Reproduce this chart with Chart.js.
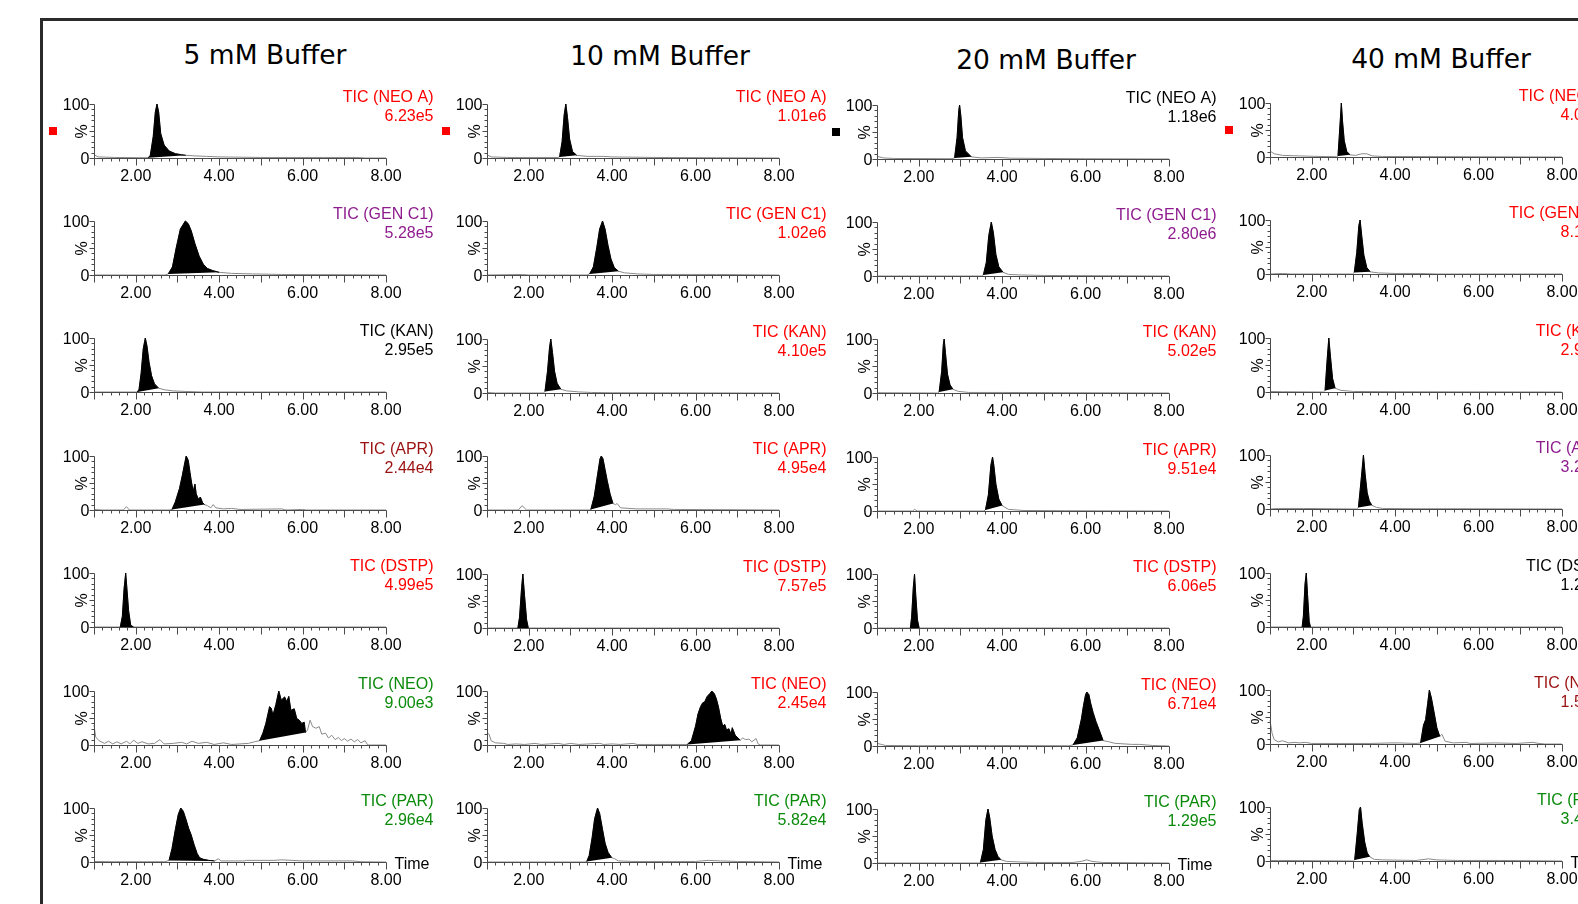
<!DOCTYPE html>
<html>
<head>
<meta charset="utf-8">
<title>TIC chromatograms by buffer strength</title>
<script src="https://cdn.jsdelivr.net/npm/chart.js@4.4.1/dist/chart.umd.min.js"></script>
<style>
  html, body { margin: 0; padding: 0; background: #fff; width: 1578px; height: 904px; overflow: hidden; }
  #frame { position: absolute; left: 40px; top: 18px; width: 1700px; height: 1000px;
           border-left: 3px solid #2b2b2b; border-top: 3px solid #2b2b2b; }
  .title { position: absolute; font-family: "DejaVu Sans", Verdana, sans-serif; font-size: 26.5px;
           color: #000; white-space: nowrap; transform: translate(-50%, -50%); }
  canvas { position: absolute; }
</style>
</head>
<body>
<div id="frame"></div>
<div id="wrap"></div>
<script>
// column headers and row compounds
const buffers = ['5 mM Buffer', '10 mM Buffer', '20 mM Buffer', '40 mM Buffer'];
const compounds = ['NEO A', 'GEN C1', 'KAN', 'APR', 'DSTP', 'NEO', 'PAR'];

// base peak intensity printed under each TIC label
const counts5mM = ['6.23e5', '5.28e5', '2.95e5', '2.44e4', '4.99e5', '9.00e3', '2.96e4'];
const counts10mM = ['1.01e6', '1.02e6', '4.10e5', '4.95e4', '7.57e5', '2.45e4', '5.82e4'];
const counts20mM = ['1.18e6', '2.80e6', '5.02e5', '9.51e4', '6.06e5', '6.71e4', '1.29e5'];
const counts40mM = ['4.05e5', '8.16e5', '2.96e5', '3.25e4', '1.25e5', '1.55e4', '3.45e4'];

// axis tick labels
const timeTicks = [2, 4, 6, 8];
const pctTicks = [0, 100];

// traces: [time (min), relative intensity (%)]
// 5 mM
const neoA5 = [[1.0,6],[1.1,2],[1.5,1],[2.3,0.5],[2.35,5],[2.42,40],[2.47,85],[2.51,100],[2.55,85],[2.6,45],[2.68,24],[2.8,13],[2.95,8],[3.1,6],[3.2,5],[3.4,4],[3.7,3],[4.0,2],[5.0,1],[6.5,1],[7.3,1],[7.5,0],[8.0,0]];
const gen5 = [[1.0,0],[2.7,0],[2.78,2],[2.88,15],[2.97,50],[3.07,85],[3.19,100],[3.26,95],[3.33,82],[3.42,58],[3.52,35],[3.62,20],[3.72,12],[3.85,8],[4.0,5],[4.3,3],[4.8,2],[5.5,1],[7.2,0.5],[8.0,0]];
const kan5 = [[1.0,0],[2.04,0],[2.08,5],[2.13,35],[2.18,80],[2.23,100],[2.27,85],[2.32,55],[2.38,30],[2.45,15],[2.55,7],[2.7,4],[2.9,2],[3.2,1],[3.6,0],[8.0,0]];
const apr5 = [[1.0,1],[1.2,0],[1.7,0],[1.78,6],[1.85,0],[2.8,0],[2.87,1],[2.95,15],[3.05,40],[3.12,65],[3.17,85],[3.21,100],[3.26,92],[3.3,70],[3.34,50],[3.38,35],[3.42,48],[3.45,30],[3.5,20],[3.55,24],[3.6,14],[3.65,10],[3.72,8],[3.8,4],[3.86,10],[3.92,4],[4.1,2],[4.3,3],[4.5,1],[5.5,2],[5.6,0],[6.0,1],[6.1,0],[8.0,0]];
const dstp5 = [[1.0,0],[1.63,0],[1.68,20],[1.72,70],[1.76,100],[1.79,70],[1.83,30],[1.88,3],[1.95,0],[8.0,0]];
const neo5 = [[1.0,37],[1.04,15],[1.12,8],[1.25,3],[1.35,7],[1.45,2],[1.55,6],[1.65,2],[1.78,7],[1.86,2],[1.95,9],[2.05,3],[2.15,6],[2.3,2],[2.45,3],[2.58,10],[2.68,2],[2.9,3],[3.1,5],[3.22,2],[3.35,7],[3.5,3],[3.7,5],[3.88,1],[4.1,4],[4.3,1],[4.5,2],[4.7,3],[4.85,6],[4.97,8],[5.05,22],[5.12,40],[5.21,71],[5.25,68],[5.29,55],[5.36,75],[5.43,100],[5.49,83],[5.57,89],[5.62,80],[5.67,90],[5.72,64],[5.8,67],[5.86,49],[5.92,46],[5.98,40],[6.04,42],[6.07,23],[6.12,28],[6.18,46],[6.24,34],[6.32,31],[6.4,34],[6.46,20],[6.55,22],[6.62,13],[6.7,18],[6.78,10],[6.86,14],[6.93,8],[7.0,12],[7.08,7],[7.16,11],[7.24,6],[7.32,10],[7.4,4],[7.5,8],[7.56,0],[8.0,0]];
const par5 = [[1.0,1],[1.5,0.5],[2.7,0.5],[2.8,3],[2.87,25],[2.95,60],[3.02,88],[3.08,100],[3.14,94],[3.2,80],[3.27,62],[3.33,50],[3.4,32],[3.47,16],[3.53,8],[3.62,5],[3.75,3],[3.89,2],[3.98,6],[4.05,2],[4.6,2],[4.65,3],[5.3,3],[5.5,4],[6.0,2],[7.2,2],[7.4,0.5],[8.0,0]];
// 10 mM
const neoA10 = [[1.0,6],[1.1,2],[1.5,1],[2.7,1],[2.74,2],[2.8,30],[2.85,80],[2.89,100],[2.93,75],[2.98,35],[3.05,12],[3.15,5],[3.4,3],[3.8,3],[4.0,2],[5.0,1],[6.5,0.5],[8.0,0]];
const gen10 = [[1.0,0],[1.85,1],[2.0,0],[3.4,0],[3.46,2],[3.55,15],[3.63,50],[3.7,85],[3.77,100],[3.83,85],[3.9,55],[3.97,30],[4.05,14],[4.15,7],[4.3,4],[4.6,2],[5.0,1],[5.9,1],[6.5,1],[8.0,0]];
const kan10 = [[1.0,1],[1.2,0],[2.35,0],[2.39,3],[2.45,40],[2.5,85],[2.53,100],[2.57,75],[2.62,40],[2.68,18],[2.77,7],[2.9,4],[3.2,2],[3.5,1],[4.0,0.5],[8.0,0]];
const apr10 = [[1.0,0],[1.75,0],[1.84,8],[1.95,0],[3.45,0],[3.49,1],[3.57,25],[3.65,65],[3.71,95],[3.74,100],[3.78,95],[3.83,75],[3.88,55],[3.95,30],[4.02,12],[4.08,10],[4.12,12],[4.2,4],[4.6,2],[5.3,2],[5.5,1],[7.0,0.5],[8.0,0]];
const dstp10 = [[1.0,0],[1.74,0],[1.78,20],[1.83,75],[1.86,100],[1.9,60],[1.95,15],[1.99,0],[8.0,0]];
const neo10 = [[1.0,23],[1.05,20],[1.1,8],[1.2,4],[1.4,3],[1.5,1],[1.7,2],[1.9,1],[2.15,3],[2.3,1],[2.5,2],[2.7,3],[2.85,1],[3.0,3],[3.2,1],[3.7,3],[3.8,1],[4.0,2],[4.2,1],[4.5,3],[4.6,1],[5.0,1],[5.8,1],[5.9,8],[6.0,35],[6.06,58],[6.12,71],[6.17,78],[6.22,80],[6.28,90],[6.34,95],[6.39,100],[6.45,95],[6.5,85],[6.55,70],[6.6,50],[6.65,35],[6.7,38],[6.74,28],[6.8,30],[6.85,20],[6.88,32],[6.95,18],[7.07,9],[7.13,13],[7.2,10],[7.28,11],[7.35,6],[7.45,12],[7.5,2],[7.55,0],[8.0,0]];
const par10 = [[1.0,0],[3.35,0],[3.39,1],[3.45,12],[3.52,45],[3.58,80],[3.65,100],[3.7,90],[3.77,60],[3.83,35],[3.9,18],[3.99,8],[4.06,6],[4.15,2],[4.5,1],[6.0,1],[6.3,3],[6.6,2],[7.0,1],[8.0,0]];
// 20 mM
const neoA20 = [[1.0,5],[1.15,2],[1.4,1],[2.8,0.5],[2.86,2],[2.92,40],[2.96,90],[2.98,100],[3.01,80],[3.05,40],[3.12,15],[3.26,4],[3.5,2],[3.9,3],[4.2,1.5],[5.0,1],[6.0,0.5],[8.0,0]];
const gen20 = [[1.0,0],[3.5,0],[3.55,2],[3.62,25],[3.68,75],[3.74,100],[3.79,80],[3.85,40],[3.92,17],[4.02,7],[4.15,3],[4.4,2],[5.0,1],[8.0,0]];
const kan20 = [[1.0,0.5],[2.45,0],[2.49,2],[2.55,40],[2.59,90],[2.61,100],[2.64,75],[2.69,35],[2.75,15],[2.82,7],[2.95,3],[3.2,1],[4.0,1],[8.0,0]];
const apr20 = [[1.0,0],[1.85,0],[1.9,3],[1.97,0],[3.56,0],[3.6,2],[3.67,30],[3.73,85],[3.77,100],[3.8,85],[3.85,50],[3.92,22],[4.0,10],[4.15,3],[4.5,1],[5.5,0.5],[8.0,0]];
const dstp20 = [[1.0,0],[1.8,0],[1.83,20],[1.87,75],[1.9,100],[1.93,60],[1.97,15],[2.01,0],[8.0,0]];
const neo20 = [[1.0,5],[1.1,3],[1.2,1],[2.0,0.5],[3.7,1],[5.6,0.5],[5.7,2],[5.8,15],[5.9,50],[5.95,75],[6.0,95],[6.03,100],[6.08,95],[6.12,80],[6.18,62],[6.25,45],[6.35,25],[6.42,10],[6.55,8],[6.7,5],[6.9,4],[7.1,3],[7.3,3],[7.6,1],[8.0,0]];
const par20 = [[1.0,0],[3.45,0],[3.48,1],[3.55,25],[3.61,80],[3.66,100],[3.7,85],[3.76,50],[3.83,25],[3.9,12],[3.97,6],[4.1,3],[4.4,2],[4.8,1],[5.7,1],[5.9,3],[6.03,6],[6.15,3],[6.4,1],[8.0,0]];
// 40 mM
const neoA40 = [[1.0,11],[1.1,6],[1.3,3],[1.7,2],[2.2,1],[2.6,0.5],[2.63,2],[2.67,50],[2.71,100],[2.74,65],[2.78,30],[2.84,10],[2.92,4],[3.05,3],[3.2,6],[3.32,6],[3.45,2],[3.7,1],[8.0,0]];
const gen40 = [[1.0,0],[1.3,1],[1.5,0],[2.98,0],[3.02,3],[3.08,40],[3.13,90],[3.16,100],[3.2,70],[3.25,35],[3.32,12],[3.4,4],[3.6,2],[4.0,1],[4.6,1],[5.0,0],[8.0,0]];
const kan40 = [[1.0,1],[1.3,0.5],[2.28,0],[2.32,3],[2.37,60],[2.41,100],[2.45,65],[2.5,25],[2.56,7],[2.7,3],[3.0,1],[4.0,0.5],[8.0,0]];
const apr40 = [[1.0,0],[1.2,1],[1.8,1],[3.08,0],[3.12,3],[3.18,50],[3.24,100],[3.28,65],[3.33,30],[3.38,15],[3.44,7],[3.55,3],[3.7,1],[4.5,0.5],[5.5,0.5],[8.0,0]];
const dstp40 = [[1.0,0],[1.77,0],[1.8,20],[1.84,80],[1.87,100],[1.9,60],[1.94,10],[1.97,0],[8.0,0]];
const neo40 = [[1.0,44],[1.05,20],[1.1,8],[1.2,4],[1.3,6],[1.45,2],[1.6,3],[1.7,2],[1.85,3],[2.0,1],[2.7,1],[3.4,1],[3.9,2],[4.1,2],[4.5,1],[4.61,2],[4.68,35],[4.73,45],[4.78,75],[4.82,100],[4.87,85],[4.93,60],[5.0,30],[5.07,14],[5.12,18],[5.2,5],[5.4,2],[5.7,3],[5.8,1],[6.4,2],[6.9,1],[7.3,3],[7.45,1],[7.6,0],[8.0,0]];
const par40 = [[1.0,1],[1.2,1],[3.0,0],[3.03,2],[3.09,50],[3.14,95],[3.17,100],[3.21,70],[3.27,35],[3.33,15],[3.39,8],[3.5,3],[3.7,2],[4.5,1],[4.8,4],[5.0,2],[5.5,1],[6.5,1],[8.0,0]];

// integrated peak windows [start, end] (min), one per compound row
const peaks5mM = [[2.3,3.2],[2.78,4.0],[2.04,2.55],[2.87,3.65],[1.63,1.95],[4.97,6.07],[2.8,3.89]];
const peaks10mM = [[2.74,3.15],[3.46,4.15],[2.39,2.77],[3.49,4.02],[1.74,1.99],[5.8,7.07],[3.39,3.99]];
const peaks20mM = [[2.86,3.26],[3.55,4.02],[2.49,2.82],[3.6,4.0],[1.8,2.01],[5.7,6.42],[3.48,3.97]];
const peaks40mM = [[2.63,2.92],[3.02,3.4],[2.32,2.56],[3.12,3.44],[1.77,1.97],[4.61,5.07],[3.03,3.39]];

const traces = [
  [neoA5, gen5, kan5, apr5, dstp5, neo5, par5],
  [neoA10, gen10, kan10, apr10, dstp10, neo10, par10],
  [neoA20, gen20, kan20, apr20, dstp20, neo20, par20],
  [neoA40, gen40, kan40, apr40, dstp40, neo40, par40],
];
const counts = [counts5mM, counts10mM, counts20mM, counts40mM];
const peaks = [peaks5mM, peaks10mM, peaks20mM, peaks40mM];

// styling
const RED = '#ff0000', PURPLE = '#8e1c8e', BLACK = '#000000', DKRED = '#9b1010', GREEN = '#0a8a0a';
const labelColors = [
  [RED, PURPLE, BLACK, DKRED, RED, GREEN, GREEN],
  [RED, RED, RED, RED, RED, RED, GREEN],
  [BLACK, PURPLE, RED, RED, RED, RED, GREEN],
  [RED, RED, RED, PURPLE, BLACK, DKRED, GREEN],
];
const markerColors = [RED, RED, BLACK, RED];

// layout (px)
const axisX = [94, 487, 877, 1270];
const colShift = [0, 0.5, 1, -0.5];
const titleX = [265, 660, 1046, 1441];
const titleY = [54, 55, 58.5, 57.5];
const ROW0 = 103.5, ROW_STEP = 117.4;
const PAD_L = 60, PAD_T = 30, PAD_R = 52, PAD_B = 28;
const PLOT_W = 292, PLOT_H = 54;
const FONT = '16px "Liberation Sans", Arial, sans-serif';

const msAxes = {
  id: 'msAxes',
  afterDatasetsDraw(chart, args, opts) {
    const { ctx, scales: { x, y } } = chart;
    const x0 = Math.round(x.getPixelForValue(1)) + 0.5;
    const x8 = Math.round(x.getPixelForValue(8)) + 0.5;
    const yb = Math.round(y.getPixelForValue(0)) + 0.5;
    const yt = Math.round(y.getPixelForValue(100)) + 0.5;
    ctx.save();
    ctx.strokeStyle = '#4a4a4a';
    ctx.lineWidth = 1;
    ctx.beginPath();
    ctx.moveTo(x0, yt); ctx.lineTo(x0, yb); ctx.lineTo(x8, yb);
    for (let i = 0; i <= 35; i++) {
      const px = Math.round(x.getPixelForValue(1 + i * 0.2)) + 0.5;
      const len = i % 5 === 0 ? 7 : 3;
      ctx.moveTo(px, yb); ctx.lineTo(px, yb + len);
    }
    for (let p = 0; p <= 100; p += 10) {
      const py = Math.round(y.getPixelForValue(p)) + 0.5;
      const len = p % 50 === 0 ? 5 : 3;
      ctx.moveTo(x0, py); ctx.lineTo(x0 - len, py);
    }
    ctx.stroke();

    ctx.fillStyle = '#000';
    ctx.font = FONT;
    ctx.textBaseline = 'alphabetic';
    ctx.textAlign = 'center';
    timeTicks.forEach(t => ctx.fillText(t.toFixed(2), x.getPixelForValue(t), yb + 22));
    ctx.textAlign = 'right';
    pctTicks.forEach(p => ctx.fillText(String(p), x0 - 5, y.getPixelForValue(p) + 6));

    ctx.save();
    ctx.translate(x0 - 12, (yt + yb) / 2);
    ctx.rotate(-Math.PI / 2);
    ctx.textAlign = 'center';
    ctx.textBaseline = 'middle';
    ctx.fillText('%', 0, 0);
    ctx.restore();

    ctx.fillStyle = opts.color;
    ctx.textAlign = 'right';
    ctx.fillText('TIC (' + opts.label + ')', x0 + 339, yt - 2.5);
    ctx.fillText(opts.value, x0 + 339, yt + 16);

    if (opts.marker) {
      ctx.fillStyle = opts.marker;
      ctx.fillRect(x0 - 45.5, yt + 22.5, 8, 8);
    }
    if (opts.showTime) {
      ctx.fillStyle = '#000';
      ctx.textAlign = 'left';
      ctx.fillText('Time', x8 + 8, yb + 6.5);
    }
    ctx.restore();
  }
};

const wrap = document.getElementById('wrap');

buffers.forEach((name, c) => {
  const t = document.createElement('div');
  t.className = 'title';
  t.textContent = name;
  t.style.left = titleX[c] + 'px';
  t.style.top = titleY[c] + 'px';
  wrap.appendChild(t);
});

function toXY(pts) { return pts.map(p => ({ x: p[0], y: p[1] })); }

for (let c = 0; c < buffers.length; c++) {
  for (let r = 0; r < compounds.length; r++) {
    const trace = traces[c][r];
    const [t0, t1] = peaks[c][r];
    const peakPts = trace.filter(p => p[0] >= t0 && p[0] <= t1);
    const basePts = [peakPts[0], peakPts[peakPts.length - 1]];

    const y100 = Math.round(ROW0 + r * ROW_STEP + colShift[c]);
    const canvas = document.createElement('canvas');
    const w = PAD_L + PLOT_W + PAD_R, h = PAD_T + PLOT_H + PAD_B;
    canvas.width = w; canvas.height = h;
    canvas.style.width = w + 'px'; canvas.style.height = h + 'px';
    canvas.style.left = (axisX[c] - PAD_L) + 'px';
    canvas.style.top = (y100 - PAD_T) + 'px';
    wrap.appendChild(canvas);

    new Chart(canvas, {
      type: 'line',
      data: {
        datasets: [
          { data: toXY(peakPts), borderColor: '#000', borderWidth: 1, backgroundColor: '#000',
            fill: '+1', pointRadius: 0, tension: 0, clip: false },
          { data: toXY(basePts), borderColor: 'rgba(0,0,0,0)', borderWidth: 0,
            fill: false, pointRadius: 0, clip: false },
          { data: toXY(trace), borderColor: '#8a8a8a', borderWidth: 1,
            fill: false, pointRadius: 0, tension: 0, clip: false },
        ],
      },
      options: {
        responsive: false,
        animation: false,
        devicePixelRatio: 1,
        events: [],
        layout: { padding: { left: PAD_L, top: PAD_T, right: PAD_R, bottom: PAD_B } },
        scales: {
          x: { type: 'linear', min: 1, max: 8, display: false },
          y: { type: 'linear', min: 0, max: 100, display: false },
        },
        plugins: {
          legend: { display: false },
          tooltip: { enabled: false },
          msAxes: {
            label: compounds[r],
            value: counts[c][r],
            color: labelColors[c][r],
            marker: r === 0 ? markerColors[c] : null,
            showTime: r === compounds.length - 1,
          },
        },
      },
      plugins: [msAxes],
    });
  }
}
</script>
</body>
</html>
